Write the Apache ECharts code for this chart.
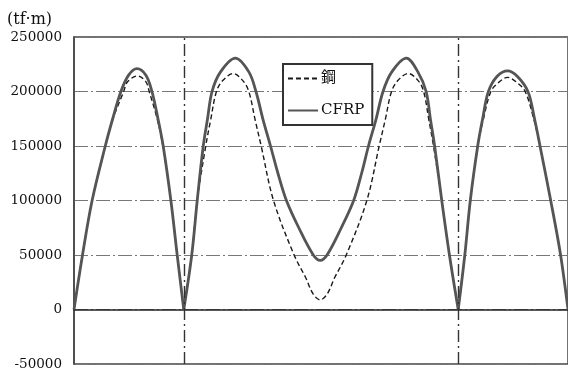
<!DOCTYPE html>
<html>
<head>
<meta charset="utf-8">
<script src="https://cdn.jsdelivr.net/npm/echarts@6/dist/echarts.min.js"></script>
<style>html,body{margin:0;padding:0;background:#fff;}#c{width:568px;height:371px;}</style>
</head>
<body>
<div id="c"></div>
<script>
// Axis
const yTicks = [-50000, 0, 50000, 100000, 150000, 200000, 250000];
const unitLabel = '(tf·m)';
const supports = [0, 40, 140, 180];       // support positions (m)
const seriesNames = ['鋼', 'CFRP'];

// 鋼 (steel) bending moment
const steelX = [0, 3.1, 6.6, 11.4, 14.2, 18.1, 19.5, 23.1, 26.2, 27.4, 30.3, 32.4, 35.3, 37.6, 40,
  42.9, 44.9, 48.0, 49.8, 51.9, 54.2, 58.0, 61.5, 63.7, 66.0, 68.2, 72.7, 80.2, 84.4, 87.2, 89.7, 92.2, 95.0, 99.2, 106.7, 111.2, 113.4, 115.7, 118.0, 121.8, 125.4, 127.4, 129.3, 131.0, 134.0, 136.8, 140,
  142.4, 144.4, 147.1, 149.2, 151.9, 154.6, 158.0, 161.5, 164.4, 167.5, 169.8, 173.7, 177.3, 180];
const steelM = [0, 50000, 100000, 150000, 175000, 200000, 208900, 214300, 208900, 200000, 175000, 150000, 100000, 50000, 0,
  50000, 100000, 150000, 174000, 200000, 210000, 216500, 210000, 200000, 174000, 150000, 100000, 50000, 29300, 14000, 8800, 14000, 29300, 50000, 100000, 150000, 174000, 200000, 210000, 216500, 210000, 200000, 174000, 150000, 100000, 50000, 0,
  50000, 100000, 150000, 175000, 200000, 208000, 213000, 208000, 200000, 175000, 150000, 100000, 50000, 0];

// CFRP bending moment
const cfrpX = [0, 3.1, 6.6, 11.4, 14.1, 17.1, 19.9, 22.9, 26.2, 28.4, 30.6, 32.5, 35.3, 37.6, 40,
  42.9, 44.9, 47.1, 48.6, 50.3, 53.4, 58.8, 63.7, 66.3, 68.9, 71.6, 74.3, 77.4, 81.9, 87.2, 89.7, 92.2, 97.4, 101.9, 104.8, 107.3, 110.0, 112.6, 115.8, 121.1, 125.3, 128.3, 129.9, 131.4, 134.0, 136.8, 140,
  142.4, 144.4, 147.1, 148.9, 151.0, 154.2, 158.0, 161.5, 165.4, 167.8, 169.8, 173.7, 177.3, 180];
const cfrpM = [0, 50000, 100000, 150000, 175000, 200000, 215000, 221000, 215000, 200000, 175000, 150000, 100000, 50000, 0,
  50000, 100000, 150000, 174000, 200000, 218000, 230600, 218000, 200000, 174000, 150000, 125000, 100000, 75000, 50000, 45000, 50000, 75000, 100000, 125000, 150000, 174000, 200000, 218000, 230600, 218000, 200000, 174000, 150000, 100000, 50000, 0,
  50000, 100000, 150000, 175000, 200000, 214000, 219000, 214000, 200000, 175000, 150000, 100000, 50000, 0];

function spans(name, xs, ys, lineStyle, z) {
  const out = [];
  for (let s = 0; s < supports.length - 1; s++) {
    const pts = [];
    for (let i = 0; i < xs.length; i++) {
      if (xs[i] >= supports[s] && xs[i] <= supports[s + 1]) pts.push([xs[i], ys[i]]);
    }
    out.push({
      name: name, type: 'line', data: pts, showSymbol: false, symbol: 'none',
      smooth: 0.35, lineStyle: lineStyle, itemStyle: { color: lineStyle.color },
      z: z, silent: true, animation: false
    });
  }
  return out;
}

const series = [].concat(
  spans(seriesNames[0], steelX, steelM, { color: '#1a1a1a', width: 1.4, type: [5, 3] }, 3),
  spans(seriesNames[1], cfrpX, cfrpM, { color: '#555', width: 2.8, type: 'solid' }, 4)
);
series[0].markLine = {
  silent: true, symbol: ['none', 'none'], label: { show: false },
  lineStyle: { color: '#333', width: 1.4, type: [12, 4, 2, 4] },
  data: [{ xAxis: supports[1] }, { xAxis: supports[2] }]
};

const chart = echarts.init(document.getElementById('c'), null, { renderer: 'canvas' });
chart.setOption({
  backgroundColor: '#fff',
  animation: false,
  title: {
    text: unitLabel, left: 7, top: 12, padding: 0,
    textStyle: { fontFamily: 'DejaVu Serif', fontSize: 16, fontWeight: 'normal', color: '#111' }
  },
  legend: {
    data: seriesNames, orient: 'vertical', left: 283, top: 64,
    itemWidth: 30, itemHeight: 14, itemGap: 17,
    padding: [7, 8, 7, 4],
    itemStyle: { opacity: 0 },
    backgroundColor: '#fff', borderColor: '#333', borderWidth: 2, borderRadius: 0,
    textStyle: { fontFamily: "'DejaVu Serif', 'Noto Sans CJK JP'", fontSize: 15, color: '#111', padding: [0, 0, 0, -2] }
  },
  grid: { left: 74, right: -3, top: 37, bottom: 4, show: true, borderColor: '#444', borderWidth: 1.5, backgroundColor: 'transparent' },
  xAxis: {
    type: 'value', min: supports[0], max: supports[supports.length - 1],
    axisLine: { show: true, onZero: true, lineStyle: { color: '#222', width: 1.5 } },
    axisTick: { show: false }, axisLabel: { show: false }, splitLine: { show: false }
  },
  yAxis: {
    type: 'value', min: yTicks[0], max: yTicks[yTicks.length - 1], interval: 50000,
    axisLine: { show: true, lineStyle: { color: '#444', width: 1.5 } },
    axisTick: { show: false },
    axisLabel: { margin: 12, fontFamily: 'DejaVu Serif', fontSize: 13.5, color: '#111', formatter: function (v) { return String(v); } },
    splitLine: { show: true, lineStyle: { color: '#777', width: 1, type: [14, 3, 2, 3] } }
  },
  series: series
});
</script>
</body>
</html>
